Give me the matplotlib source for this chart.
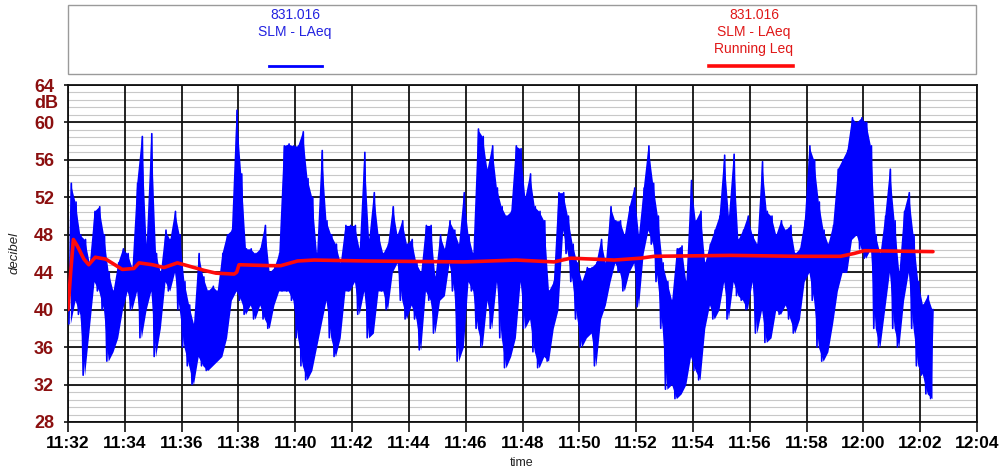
import numpy as np
import matplotlib
matplotlib.use("Agg")
import matplotlib.pyplot as plt
import matplotlib.dates as mdates
from matplotlib.patches import Rectangle
from datetime import datetime, timedelta

# ---- data -------------------------------------------------------------
start_time = datetime(2020, 1, 1, 11, 32, 0)
interval_s = 10  # LAeq low/high per 10-second interval

laeq_low = [
    38.5, 41, 39.5, 33, 38, 43, 42, 40, 34.5, 35.5, 37, 40, 42, 40, 42, 37,
    40, 42, 35, 38, 43, 42, 44, 40, 36, 34, 32, 35, 34, 33.5, 34,
    34.5, 35, 37, 41, 42, 41, 39.5, 40.5, 39, 40.5, 39, 38, 40.5, 42, 42, 42,
    41, 37, 34, 32.5, 33.5, 36, 38.5, 41, 37, 35, 37, 42, 42, 43, 39.5, 42,
    37, 37.5, 42, 42, 40, 44, 45, 41, 39, 40.5, 39, 35.7, 42, 41, 37.5, 41,
    41.5, 45, 42, 34.5, 36, 43, 42, 38, 36, 41, 38, 43, 37, 33.8, 35, 37,
    43, 38, 39, 35.5, 33.8, 35, 34.5, 38, 40, 48.5, 46, 43, 39, 36, 37, 37.5,
    34, 39, 40.5, 43, 45, 44, 42, 44, 45, 40.3, 46, 48.5, 47, 43, 38, 31.5,
    32, 30.5, 31, 32, 35, 33.5, 32.5, 38, 40.5, 39, 40, 43, 39, 43, 41.5, 41,
    40, 43, 37.5, 40, 36.5, 37, 40, 39.5, 40.5, 39, 37.5, 39, 43, 44, 41,
    36, 34.5, 35.5, 38.5, 42, 44, 44, 47.5, 48, 46.5, 45.5, 46.5, 38, 36, 40,
    44, 38, 36, 41, 44, 38, 34, 33, 31, 30.5,
]
laeq_high = [
    53.5, 51.5, 48, 47.5, 45, 50.5, 51, 48, 44, 42, 45, 46.5, 46, 44.5, 53.5,
    58.5, 47, 58.8, 46, 44, 48.5, 47.5, 50.5, 48, 43, 40.5, 38.5, 46, 43.5, 42,
    42.5,
    42, 46, 48, 48.5, 61.3, 54.5, 46.5, 46.5, 46, 46.5, 49, 44, 44.5, 46, 57.5,
    57.7, 57.5, 57.5, 59, 54, 52, 46, 57, 49.5, 48, 47, 45, 49, 49, 49, 46.5,
    56.8,
    47.5, 52.5, 48, 46, 47, 51, 48, 49.5, 47, 47.5, 45, 44, 49, 49, 43.5, 48,
    46.5, 49.5, 48.5, 47, 52.5, 48, 46, 59.3, 58.5, 55, 57.5, 53, 51, 50, 50.5,
    57.5,
    57.2, 52, 54.5, 51, 50.5, 49.5, 42, 43, 52.5, 52.5, 50, 47, 45, 43, 44.5,
    44.5, 45, 47.5, 45, 51, 49.5, 49.5, 48, 51, 53, 48, 53, 57.5, 53.5, 50, 45,
    43,
    41, 46.5, 46.8, 43, 53.8, 49.5, 50.5, 45, 47, 48.5, 50, 56.5, 50, 56.6,
    47.5, 48.5, 50, 48, 47, 55.8, 50.5, 50, 48, 49.5, 48.5, 49, 46, 46.5, 49.5,
    57.5, 56,
    51.5, 48.5, 47, 49, 55, 56, 57, 60.5, 60, 60.5, 60, 57.5, 48, 46, 50, 55,
    49.5, 44, 50.5, 52.5, 48, 43, 40.5, 41.5, 40,
]

# running Leq: minutes after start, dB
leq_minutes = [0, 0.094, 0.19, 0.33, 0.56, 0.73, 0.96, 1.33, 1.91, 2.32, 2.5,
               2.97, 3.38, 3.85, 4.32, 4.79, 5.21, 5.85, 5.94, 6.02, 7.14,
               7.49, 8.08, 8.66, 10.49, 13.94, 15.77, 17.11, 17.7, 19.23,
               20.16, 20.63, 23.33, 25.68, 26.34, 27.2, 27.67, 28.03, 30.45]
leq_values = [40, 44, 47.5, 46.8, 45.4, 44.8, 45.6, 45.4, 44.3, 44.4, 45.0,
              44.8, 44.5, 45.0, 44.6, 44.2, 43.9, 43.8, 44.0, 44.8, 44.7,
              44.7, 45.2, 45.3, 45.2, 45.1, 45.3, 45.1, 45.5, 45.3, 45.5,
              45.7, 45.8, 45.7, 45.7, 45.7, 46.0, 46.3, 46.2]

y_ticks = [28, 32, 36, 40, 44, 48, 52, 56, 60, 64]
series_name = "831.016"
blue_label = "SLM - LAeq"
red_label = "SLM - LAeq\nRunning Leq"

# ---- figure -----------------------------------------------------------
W, H = 1002, 470
fig = plt.figure(figsize=(W / 100, H / 100), dpi=100)
plt.rcParams["font.family"] = ["Liberation Sans", "DejaVu Sans"]


def fx(px):
    return px / W


def fy(py):
    return 1 - py / H


ax = fig.add_axes([fx(68), fy(422), fx(977) - fx(68), fy(85) - fy(422)])

BLUE = "#0000ff"
RED = "#ff0a0a"

# level band: low/high of each interval, with the raw zig-zag on top
t_mid = [start_time + timedelta(seconds=k * interval_s + interval_s / 2)
         for k in range(len(laeq_low))]
ax.fill_between(t_mid, laeq_low, laeq_high, color=BLUE, lw=0, zorder=3)
t_pts, v_pts = [], []
for k, (lo, hi) in enumerate(zip(laeq_low, laeq_high)):
    t_pts.append(start_time + timedelta(seconds=k * interval_s + 2))
    v_pts.append(lo)
    t_pts.append(start_time + timedelta(seconds=k * interval_s + 7))
    v_pts.append(hi)
ax.plot(t_pts, v_pts, color=BLUE, lw=1.2, zorder=3)

leq_t = [start_time + timedelta(minutes=m) for m in leq_minutes]
ax.plot(leq_t, leq_values, color=RED, lw=2.6, zorder=4,
        solid_capstyle="round")

# axes limits / ticks
ax.set_xlim(start_time, start_time + timedelta(minutes=32))
ax.set_ylim(28, 64)
ax.xaxis.set_major_locator(mdates.MinuteLocator(byminute=range(0, 60, 2)))
ax.xaxis.set_major_formatter(mdates.DateFormatter("%H:%M"))
ax.set_yticks(y_ticks)

# fine horizontal rules under the major grid
for lv in np.arange(28, 64, 0.8):
    ax.axhline(lv, color="#c8c8c8", lw=0.8, zorder=0.1)
ax.set_axisbelow(True)
ax.grid(which="major", color="#111111", lw=1.3)

ax.tick_params(axis="x", which="major", length=7, width=1.2, pad=3,
               labelsize=12.5, color="#111111")
ax.tick_params(axis="y", which="major", length=3, width=1.2, pad=7,
               labelsize=13, labelcolor="#8b0f0f", color="#111111")
for lbl in ax.get_xticklabels() + ax.get_yticklabels():
    lbl.set_fontweight("bold")
for sp in ax.spines.values():
    sp.set_color("#111111")
    sp.set_linewidth(1.3)

fig.text(fx(58), fy(103), "dB", ha="right", va="center", fontsize=13,
         fontweight="bold", color="#8b0f0f")
fig.text(fx(15), fy(253), "decibel", rotation=90, ha="center", va="center",
         fontsize=9.5, fontstyle="italic", color="#222222")
fig.text(fx(522), fy(463), "time", ha="center", va="center", fontsize=9,
         color="#222222")

# legend panel
fig.patches.append(Rectangle((fx(68), fy(74)), fx(976) - fx(68),
                             fy(5) - fy(74), transform=fig.transFigure,
                             facecolor="white", edgecolor="#9a9a9a", lw=1))
fig.text(fx(295), fy(15), series_name, ha="center", va="center",
         fontsize=10, color="#2323e0")
fig.text(fx(295), fy(32), blue_label, ha="center", va="center",
         fontsize=10, color="#2323e0")
fig.text(fx(754), fy(15), series_name, ha="center", va="center",
         fontsize=10, color="#e01818")
fig.text(fx(754), fy(40.5), red_label, ha="center", va="center",
         fontsize=10, color="#e01818", linespacing=1.2)
fig.lines.append(plt.Line2D([fx(269), fx(322)], [fy(66), fy(66)],
                            transform=fig.transFigure, color=BLUE, lw=2))
fig.lines.append(plt.Line2D([fx(709), fx(793)], [fy(66), fy(66)],
                            transform=fig.transFigure, color=RED, lw=2.6))

fig.savefig("out.png", dpi=100)
